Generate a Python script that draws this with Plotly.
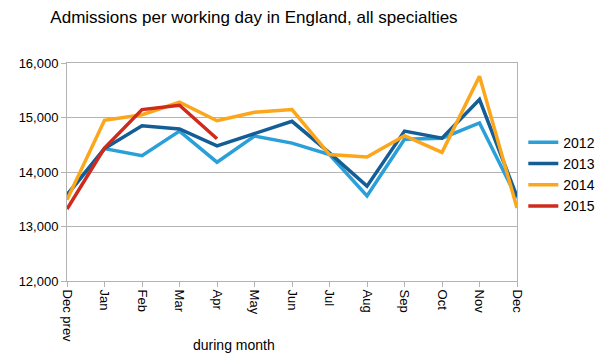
import plotly.graph_objects as go

months = ["Dec prev", "Jan", "Feb", "Mar", "Apr", "May", "Jun", "Jul", "Aug", "Sep", "Oct", "Nov", "Dec"]
y2012 = [13580, 14430, 14300, 14750, 14180, 14660, 14530, 14320, 13560, 14600, 14620, 14900, 13520]
y2013 = [13580, 14430, 14850, 14790, 14480, 14700, 14930, 14350, 13740, 14750, 14620, 15330, 13550]
y2014 = [13490, 14950, 15050, 15280, 14940, 15095, 15145, 14320, 14275, 14665, 14360, 15755, 13340]
y2015 = [13320, 14440, 15145, 15225, 14610]

series = [
    ("2012", y2012, "#2a9fd8"),
    ("2013", y2013, "#135e96"),
    ("2014", y2014, "#fca61c"),
    ("2015", y2015, "#cf2a1c"),
]

fig = go.Figure()
for name, vals, color in series:
    fig.add_trace(go.Scatter(
        x=list(range(len(vals))), y=vals, name=name, mode="lines",
        line=dict(color=color, width=3.5),
    ))

# page body has an 8px default margin, so the figure is 8px smaller
W, H = 599, 350
fig.update_layout(
    width=W, height=H,
    margin=dict(l=59, r=90, t=55, b=77, autoexpand=False),
    paper_bgcolor="white", plot_bgcolor="white",
    font=dict(family="Liberation Sans, Arial, sans-serif", color="black", size=12),
    title=dict(text="Admissions per working day in England, all specialties",
               x=246/W, xanchor="center", y=1 - 9/H, yanchor="middle",
               font=dict(size=17, color="black")),
    showlegend=True,
    legend=dict(x=1.014, xanchor="left", y=0.49, yanchor="middle",
                font=dict(size=14), itemwidth=30, tracegroupgap=0,
                bgcolor="rgba(0,0,0,0)"),
    xaxis=dict(
        range=[0, 12], tickmode="array", tickvals=list(range(len(months))),
        ticktext=months, tickangle=90, showgrid=False, automargin=False,
        showline=True, linecolor="#b3b3b3", linewidth=1, mirror=True,
        ticks="outside", ticklen=5, tickcolor="#b3b3b3",
        tickfont=dict(size=13), zeroline=False,
    ),
    yaxis=dict(
        range=[12000, 16000], tickvals=[12000, 13000, 14000, 15000, 16000],
        tickformat=",d", showgrid=True, gridcolor="#b3b3b3", gridwidth=1,
        automargin=False,
        showline=True, linecolor="#b3b3b3", linewidth=1, mirror=True,
        ticks="outside", ticklen=5, tickcolor="#b3b3b3",
        tickfont=dict(size=13), zeroline=False,
    ),
    annotations=[dict(text="during month", xref="paper", yref="paper",
                      x=(234 - 67) / 450, y=-(345 - 281) / 218,
                      xanchor="center", yanchor="middle", showarrow=False,
                      font=dict(size=14))],
)

fig.write_html("out.html")
